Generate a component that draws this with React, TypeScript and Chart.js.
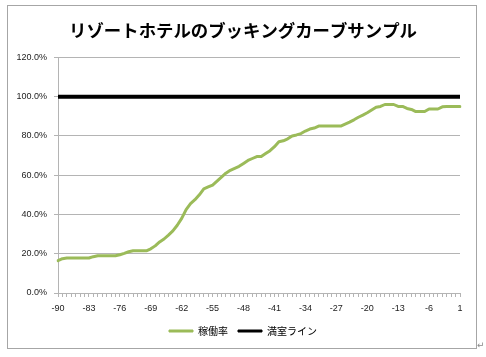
import React, { useEffect, useRef } from 'react';
import { Chart, registerables } from 'chart.js';

Chart.register(...registerables);

const TITLE = 'リゾートホテルのブッキングカーブサンプル';
const SERIES_OCC = '稼働率';
const SERIES_FULL = '満室ライン';

const DAYS: string[] = [
  '-90', '-89', '-88', '-87', '-86', '-85', '-84', '-83', '-82', '-81',
  '-80', '-79', '-78', '-77', '-76', '-75', '-74', '-73', '-72', '-71',
  '-70', '-69', '-68', '-67', '-66', '-65', '-64', '-63', '-62', '-61',
  '-60', '-59', '-58', '-57', '-56', '-55', '-54', '-53', '-52', '-51',
  '-50', '-49', '-48', '-47', '-46', '-45', '-44', '-43', '-42', '-41',
  '-40', '-39', '-38', '-37', '-36', '-35', '-34', '-33', '-32', '-31',
  '-30', '-29', '-28', '-27', '-26', '-25', '-24', '-23', '-22', '-21',
  '-20', '-19', '-18', '-17', '-16', '-15', '-14', '-13', '-12', '-11',
  '-10', '-9', '-8', '-7', '-6', '-5', '-4', '-3', '-2', '-1',
  '0', '1',
];

// occupancy (%) per day
const OCCUPANCY: number[] = [
  16.5, 17.5, 17.8, 17.8, 17.8, 17.8, 17.8, 17.8, 18.5, 19.0,
  19.0, 19.0, 19.0, 19.0, 19.5, 20.2, 21.0, 21.5, 21.5, 21.5,
  21.5, 22.5, 24.0, 26.0, 27.5, 29.5, 31.6, 34.5, 38.0, 42.5,
  45.5, 47.5, 50.0, 53.0, 54.0, 55.0, 57.0, 59.0, 61.0, 62.5,
  63.5, 64.5, 66.0, 67.5, 68.5, 69.5, 69.5, 71.0, 72.5, 74.5,
  77.0, 77.5, 78.5, 80.0, 80.5, 81.2, 82.5, 83.5, 84.0, 85.0,
  85.0, 85.0, 85.0, 85.0, 85.0, 86.0, 87.0, 88.2, 89.5, 90.6,
  91.8, 93.2, 94.6, 95.0, 96.0, 96.0, 96.0, 95.0, 95.0, 94.0,
  93.5, 92.4, 92.4, 92.4, 93.7, 93.7, 93.7, 94.8, 95.0, 95.0,
  95.0, 95.0,
];

// full-house line (%) per day
const FULL_LINE: number[] = [
  100, 100, 100, 100, 100, 100, 100, 100, 100, 100,
  100, 100, 100, 100, 100, 100, 100, 100, 100, 100,
  100, 100, 100, 100, 100, 100, 100, 100, 100, 100,
  100, 100, 100, 100, 100, 100, 100, 100, 100, 100,
  100, 100, 100, 100, 100, 100, 100, 100, 100, 100,
  100, 100, 100, 100, 100, 100, 100, 100, 100, 100,
  100, 100, 100, 100, 100, 100, 100, 100, 100, 100,
  100, 100, 100, 100, 100, 100, 100, 100, 100, 100,
  100, 100, 100, 100, 100, 100, 100, 100, 100, 100,
  100, 100,
];

const Y_MIN = 0;
const Y_MAX = 120;
const Y_STEP = 20;
const X_LABEL_EVERY = 7;

const GREEN = '#9bbb59';
const BLACK = '#000000';
const GRID = '#b4b4b4';

const framePlugin = {
  id: 'frame',
  beforeDraw(chart: any) {
    const ctx = chart.ctx;
    ctx.save();
    ctx.fillStyle = '#ffffff';
    ctx.fillRect(0, 0, chart.width, chart.height);
    ctx.strokeStyle = '#a6a6a6';
    ctx.lineWidth = 1;
    ctx.strokeRect(7.5, 5.5, 469, 343);
    ctx.restore();
  },
};

export default function App() {
  const ref = useRef<HTMLCanvasElement>(null);

  useEffect(() => {
    if (!ref.current) return;
    const chart = new Chart(ref.current, {
      type: 'line',
      data: {
        labels: DAYS,
        datasets: [
          {
            label: SERIES_OCC,
            data: OCCUPANCY,
            borderColor: GREEN,
            backgroundColor: GREEN,
            borderWidth: 3,
            pointRadius: 0,
            tension: 0,
            borderJoinStyle: 'round',
            borderCapStyle: 'round',
          },
          {
            label: SERIES_FULL,
            data: FULL_LINE,
            borderColor: BLACK,
            backgroundColor: BLACK,
            borderWidth: 4,
            pointRadius: 0,
            tension: 0,
          },
        ],
      },
      options: {
        responsive: false,
        animation: false,
        layout: { padding: { left: 17, right: 17, top: 5, bottom: 11 } },
        plugins: {
          title: {
            display: true,
            text: TITLE,
            color: '#000',
            font: { family: '"Noto Sans CJK JP", sans-serif', size: 17.4, weight: 'bold' },
            padding: { top: 15, bottom: 16.5 },
          },
          legend: {
            display: true,
            position: 'bottom',
            labels: {
              boxWidth: 24,
              boxHeight: 2,
              padding: 10,
              color: '#222',
              font: { family: '"Noto Sans CJK JP", sans-serif', size: 10 },
              generateLabels: (c: any) =>
                c.data.datasets.map((d: any, i: number) => ({
                  text: d.label,
                  fillStyle: d.borderColor,
                  strokeStyle: d.borderColor,
                  lineWidth: 1,
                  hidden: false,
                  datasetIndex: i,
                })),
            },
          },
          tooltip: { enabled: false },
        },
        scales: {
          x: {
            type: 'category',
            offset: false,
            grid: {
              display: true,
              drawOnChartArea: false,
              drawTicks: true,
              tickLength: 4,
              color: GRID,
            },
            border: { display: true, color: GRID, width: 1 },
            ticks: {
              autoSkip: false,
              maxRotation: 0,
              minRotation: 0,
              padding: 6,
              color: '#222',
              font: { family: '"Liberation Sans", sans-serif', size: 9 },
              callback: (_v: any, idx: number) => (idx % X_LABEL_EVERY === 0 ? DAYS[idx] : ''),
            },
            afterFit: (s: any) => {
              s.height = 23;
            },
          },
          y: {
            min: Y_MIN,
            max: Y_MAX,
            grid: {
              display: true,
              drawTicks: true,
              tickLength: 4,
              color: GRID,
              lineWidth: 1,
            },
            border: { display: true, color: GRID, width: 1 },
            ticks: {
              stepSize: Y_STEP,
              padding: 7,
              color: '#222',
              font: { family: '"Liberation Sans", sans-serif', size: 9 },
              callback: (v: any) => Number(v).toFixed(1) + '%',
            },
            afterFit: (s: any) => {
              s.width = 41;
            },
          },
          yRightSpacer: {
            type: 'linear',
            display: true,
            position: 'right',
            grid: { display: false, drawTicks: false },
            border: { display: false },
            ticks: { display: false },
            afterFit: (s: any) => {
              s.width = 9;
            },
          },
        },
      },
      plugins: [framePlugin],
    });
    return () => chart.destroy();
  }, []);

  return (
    <div style={{ position: 'absolute', left: 0, top: 0, width: 486, height: 357 }}>
      <canvas ref={ref} width={486} height={357} style={{ display: 'block' }} />
      <span
        style={{
          position: 'absolute',
          left: 477,
          top: 340,
          fontSize: 9,
          color: '#888',
          fontFamily: '"DejaVu Sans", sans-serif',
        }}
      >
        ↵
      </span>
    </div>
  );
}
